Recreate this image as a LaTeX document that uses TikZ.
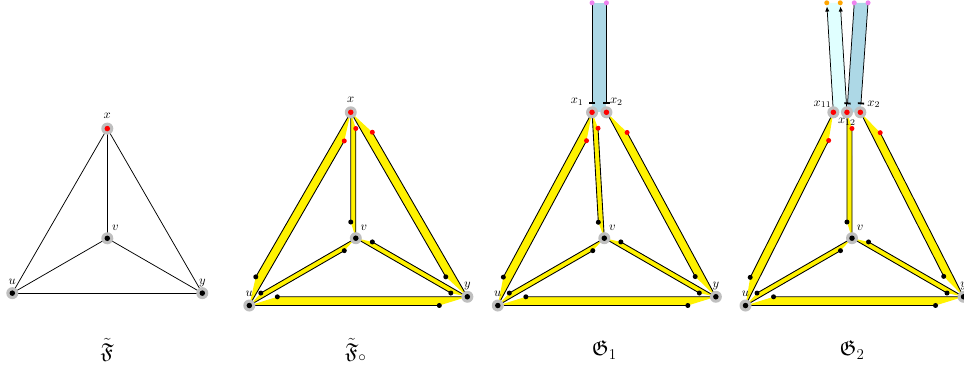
\documentclass[tikz,border=0pt]{standalone}
\usepackage{amsfonts,amsmath,amssymb}
\usepackage{tikz}
\usetikzlibrary{calc}
\usetikzlibrary{positioning}
\usetikzlibrary{arrows.meta}
\usepackage[dvipsnames]{xcolor}
\definecolor{hpink}{RGB}{238,130,238}
\definecolor{horange}{RGB}{255,165,0}
\definecolor{hblue}{RGB}{173,216,230}
\definecolor{hcyan}{RGB}{224,255,255}
\pgfdeclarelayer{back}
\pgfsetlayers{back,main}

\begin{document}
\begin{tikzpicture}[x=0.8pt, y=0.8pt,
    vert/.style={circle, fill=gray!50, inner sep=0pt, minimum size=9.6pt,
      path picture={\fill[#1] (path picture bounding box.center) circle[radius=2.2pt];}},
    vert/.default=black,
    lab/.style={inner sep=0pt, text height=4.3pt, text depth=0pt},
    plainedge/.style={line width=0.6pt},
    halfedge/.style={line width=0.7pt},
    bartip/.style={-{Bar[width=5pt,line width=1.5pt]}, shorten >=6.4pt, line width=0.6pt},
    outtip/.style={-{Latex[length=4pt,width=3.5pt]}, shorten >=3pt, line width=0.6pt}]

  \useasboundingbox (0,0) rectangle (964,368);

  % the four triangles
  \begin{scope}[shift={(107.3,129.7)}]
    \coordinate (p1v) at (0,0);
    \coordinate (p1x) at (90:109.7);
    \coordinate (p1u) at (210:109.7);
    \coordinate (p1y) at (330:109.7);
  \end{scope}
  \foreach \p/\cx in {2/355.8, 3/604.3, 4/852}{
    \begin{scope}[shift={(\cx,129.8)}, rotate=2.3]
      \coordinate (p\p v) at (0,0);
      \coordinate (p\p x) at (90:126);
      \coordinate (p\p u) at (210:126);
      \coordinate (p\p y) at (330:126);
    \end{scope}
  }
  \coordinate (p3x1) at ($(p3x)+(-7.2,0)$);
  \coordinate (p3x2) at ($(p3x)+(7.2,0)$);
  \coordinate (p4x11) at ($(p4x)+(-13.6,0)$);
  \coordinate (p4x12) at (p4x);
  \coordinate (p4x2) at ($(p4x)+(13.4,0)$);
  \foreach \p/\xu/\xv/\xy in {2/p2x/p2x/p2x, 3/p3x1/p3x1/p3x2, 4/p4x11/p4x12/p4x2}{
    \coordinate (p\p xu) at (\xu);
    \coordinate (p\p xv) at (\xv);
    \coordinate (p\p xy) at (\xy);
  }

  % plain edges
  \foreach \a/\b in {x/u, x/v, x/y, v/u, v/y, u/y}
    \draw[plainedge] (p1\a) -- (p1\b);

  % split edges
  \foreach \p in {2,3,4}{
    \foreach \a/\b/\c in {xu/u/red, xv/v/red, xy/y/red, v/u/black, v/y/black, u/y/black}{
      \coordinate (ha) at ($(p\p\a)!.13!(p\p\b)!.04!90:(p\p\b)$);
      \coordinate (hb) at ($(p\p\b)!.13!(p\p\a)!.04!90:(p\p\a)$);
      \begin{pgfonlayer}{back}
        \fill[yellow] (p\p\a) -- (ha) -- (p\p\b) -- (hb) -- cycle;
      \end{pgfonlayer}
      \draw[halfedge] (ha) -- (p\p\b) (p\p\a) -- (hb);
      \fill[\c] (ha) circle[radius=2pt];
      \fill (hb) circle[radius=2pt];
    }
  }

  % loose ends at the top
  \coordinate (p3t1) at ($(p3x1)+(0,109.5)$);
  \coordinate (p3t2) at ($(p3x2)+(0,109.5)$);
  \coordinate (p4t1) at ($(p4x11)+(-6.6,109.5)$);
  \coordinate (p4t2) at ($(p4x12)+(-6.7,109.5)$);
  \coordinate (p4t3) at ($(p4x12)+(7.3,109.5)$);
  \coordinate (p4t4) at ($(p4x2)+(7.7,109.5)$);
  \begin{pgfonlayer}{back}
    \fill[hblue] (p3t1) -- (p3t2) -- (p3x2) -- (p3x1) -- cycle;
    \fill[hcyan] (p4t1) -- (p4t2) -- (p4x12) -- (p4x11) -- cycle;
    \fill[hblue] (p4t3) -- (p4t4) -- (p4x2) -- (p4x12) -- cycle;
  \end{pgfonlayer}
  \draw[bartip] (p3t1) -- (p3x1);
  \draw[bartip] (p3t2) -- (p3x2);
  \draw[outtip] (p4x11) -- (p4t1);
  \draw[outtip] (p4x12) -- (p4t2);
  \draw[bartip] (p4t3) -- (p4x12);
  \draw[bartip] (p4t4) -- (p4x2);
  \fill[hpink] (p3t1) circle[radius=2pt] (p3t2) circle[radius=2pt];
  \fill[horange] (p4t1) circle[radius=2pt] (p4t2) circle[radius=2pt];
  \fill[hpink] (p4t3) circle[radius=2pt] (p4t4) circle[radius=2pt];

  % labels
  \foreach \p in {1,2}
    \node[lab, above=7.5pt of p\p x] (l\p x) {$x$};
  \foreach \p in {1,...,4}{
    \node[lab, above right=6.3pt and 3.6pt of p\p v] (l\p v) {$v$};
    \node[lab, above=7pt of p\p u] (l\p u) {$u$};
    \node[lab, above=7pt of p\p y] (l\p y) {$y$};
  }
  \node[lab, above left=7pt and 6.6pt of p3x1] (l3x1) {$x_1$};
  \node[lab, above right=6.5pt and 2.7pt of p3x2] (l3x2) {$x_2$};
  \node[lab, above left=4.8pt and 1.3pt of p4x11] (l4x11) {$x_{11}$};
  \node[lab, below=4.3pt of p4x12] (l4x12) {$x_{12}$};
  \node[lab, above right=4.8pt and 5.4pt of p4x2] (l4x2) {$x_2$};

  % vertices
  \foreach \p in {1,2}
    \node[vert=red] (n\p x) at (p\p x) {};
  \foreach \w in {3x1, 3x2, 4x11, 4x12, 4x2}
    \node[vert=red] (n\w) at (p\w) {};
  \foreach \p in {1,...,4}
    \foreach \w in {u,v,y}
      \node[vert] (n\p\w) at (p\p\w) {};

  % captions
  \foreach \p/\t in {1/{\tilde{\mathfrak{F}}}, 2/{\tilde{\mathfrak{F}}_\circ}, 3/{\mathfrak{G}_1}, 4/{\mathfrak{G}_2}}
    \node[font=\LARGE] (c\p) at (p\p v |- 0,18) {$\t$};
\end{tikzpicture}
\end{document}
